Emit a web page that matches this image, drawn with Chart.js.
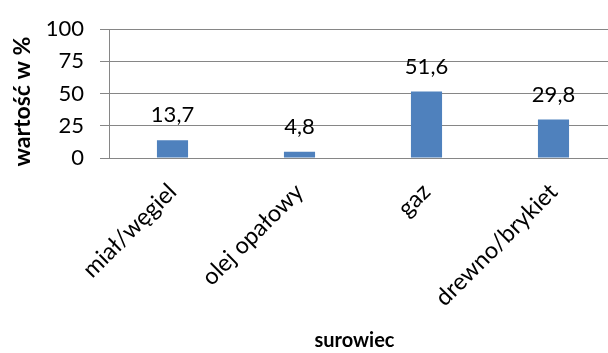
<!DOCTYPE html>
<html>
<head>
<meta charset="utf-8">
<script src="https://cdn.jsdelivr.net/npm/chart.js@4/dist/chart.umd.min.js"></script>
<style>
  html, body { margin: 0; padding: 0; background: #fff; overflow: hidden; }
  #wrap { width: 608px; height: 353px; overflow: hidden; position: relative; }
  #c { display: block; }
</style>
</head>
<body>
<div id="wrap"><canvas id="c" width="617" height="353"></canvas></div>
<script>
const categories = ['miał/węgiel', 'olej opałowy', 'gaz', 'drewno/brykiet'];
const values = [13.7, 4.8, 51.6, 29.8];
const yTicks = [0, 25, 50, 75, 100];
const xTitle = 'surowiec';
const yTitle = 'wartość w %';

const FONT = 'Lato, "Open Sans", sans-serif';
const VISIBLE_RIGHT = 600;

// Draws each bar's value (Polish decimal comma) just above the bar
const valueLabels = {
  id: 'valueLabels',
  afterDatasetsDraw(chart) {
    const ctx = chart.ctx;
    const meta = chart.getDatasetMeta(0);
    ctx.save();
    ctx.font = '22px ' + FONT;
    ctx.fillStyle = '#000';
    ctx.textAlign = 'center';
    ctx.textBaseline = 'alphabetic';
    meta.data.forEach((bar, i) => {
      const txt = values[i].toFixed(1).replace('.', ',');
      ctx.fillText(txt, bar.x, bar.y - 18);
    });
    ctx.restore();
  }
};

// Axis titles: the category title sits centred under the visible plot,
// the value title is rotated and runs up the left side
const axisTitles = {
  id: 'axisTitles',
  afterDraw(chart) {
    const ctx = chart.ctx;
    const a = chart.chartArea;
    const right = Math.min(a.right, VISIBLE_RIGHT);
    ctx.save();
    ctx.font = 'bold 20px ' + FONT;
    ctx.fillStyle = '#000';
    ctx.textAlign = 'center';
    ctx.textBaseline = 'middle';
    ctx.fillText(xTitle, (a.left + right) / 2, 341);

    ctx.font = 'bold 23px ' + FONT;
    ctx.translate(23, (a.top + a.bottom) / 2 + 8);
    ctx.rotate(-Math.PI / 2);
    ctx.fillText(yTitle, 0, 0);
    ctx.restore();
  }
};

new Chart(document.getElementById('c'), {
  type: 'bar',
  data: {
    labels: categories,
    datasets: [{
      data: values,
      backgroundColor: '#4F81BD',
      borderWidth: 0,
      barPercentage: 0.5,
      categoryPercentage: 0.49
    }]
  },
  options: {
    responsive: false,
    animation: false,
    events: [],
    layout: { padding: { top: 23, right: 0, left: 8, bottom: 0 } },
    plugins: {
      legend: { display: false },
      tooltip: { enabled: false }
    },
    scales: {
      x: {
        afterFit(scale) { scale.height = 195; },
        grid: { display: false },
        border: { display: true, color: '#868686', width: 1 },
        ticks: {
          color: '#000',
          font: { family: FONT, size: 23.5 },
          minRotation: 45,
          maxRotation: 45,
          padding: 12
        }
      },
      y: {
        min: 0,
        max: 100,
        afterBuildTicks(scale) { scale.ticks = yTicks.map(v => ({ value: v })); },
        afterFit(scale) { scale.width = 101; },
        grid: { color: '#868686', lineWidth: 1, tickLength: 9, drawTicks: true },
        border: { display: true, color: '#868686', width: 1 },
        ticks: {
          color: '#000',
          font: { family: FONT, size: 22 },
          padding: 16
        }
      }
    }
  },
  plugins: [valueLabels, axisTitles]
});
</script>
</body>
</html>
